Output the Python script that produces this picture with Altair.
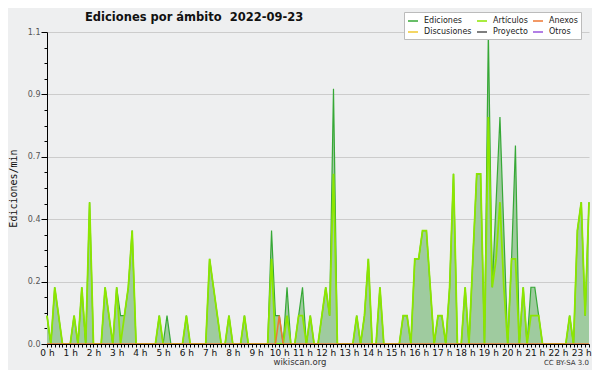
import altair as alt
import pandas as pd

# 10-minute bins, 00:00 .. 23:20 (minutes)
minutos = list(range(0, 1401, 10))

ediciones = [
    0.1, 0, 0.2, 0.1, 0, 0,        # 0 h
    0, 0.1, 0, 0.2, 0, 0.5,        # 1 h
    0, 0, 0, 0.2, 0.1, 0,          # 2 h
    0.2, 0.1, 0.1, 0.2, 0.4, 0,    # 3 h
    0, 0, 0, 0, 0, 0.1,            # 4 h
    0, 0.1, 0, 0, 0, 0,            # 5 h
    0.1, 0, 0, 0, 0, 0,            # 6 h
    0.3, 0.2, 0.1, 0, 0, 0.1,      # 7 h
    0, 0, 0, 0.1, 0, 0,            # 8 h
    0, 0, 0, 0, 0.4, 0.1,          # 9 h
    0.1, 0, 0.2, 0, 0, 0.1,        # 10 h
    0.2, 0, 0.1, 0, 0, 0.1,        # 11 h
    0.2, 0.1, 0.9, 0, 0, 0,        # 12 h
    0, 0, 0.1, 0, 0.1, 0.3,        # 13 h
    0, 0, 0.2, 0, 0, 0,            # 14 h
    0, 0, 0.1, 0.1, 0, 0.3,        # 15 h
    0.3, 0.4, 0.4, 0.2, 0, 0.1,    # 16 h
    0.1, 0, 0.2, 0.6, 0, 0,        # 17 h
    0.2, 0, 0.3, 0.6, 0.6, 0,      # 18 h
    1.1, 0.2, 0.5, 0.8, 0.4, 0,    # 19 h
    0.3, 0.7, 0, 0.2, 0, 0.2,      # 20 h
    0.2, 0.1, 0, 0, 0, 0,          # 21 h
    0, 0, 0, 0.1, 0, 0.4,          # 22 h
    0.5, 0.1, 0.5,                 # 23 h
]

articulos = [
    0.1, 0, 0.2, 0.1, 0, 0,
    0, 0.1, 0, 0.2, 0, 0.5,
    0, 0, 0, 0.2, 0.1, 0,
    0.2, 0, 0.1, 0.2, 0.4, 0,
    0, 0, 0, 0, 0, 0.1,
    0, 0, 0, 0, 0, 0,
    0.1, 0, 0, 0, 0, 0,
    0.3, 0.2, 0.1, 0, 0, 0.1,
    0, 0, 0, 0.1, 0, 0,
    0, 0, 0, 0, 0.3, 0,
    0, 0, 0.1, 0, 0, 0.1,
    0.1, 0, 0.1, 0, 0, 0.1,
    0.2, 0.1, 0.6, 0, 0, 0,
    0, 0, 0.1, 0, 0.1, 0.3,
    0, 0, 0.2, 0, 0, 0,
    0, 0, 0.1, 0.1, 0, 0.3,
    0.3, 0.4, 0.4, 0.2, 0, 0.1,
    0.1, 0, 0.2, 0.6, 0, 0,
    0.2, 0, 0.3, 0.6, 0.6, 0,
    0.8, 0.2, 0.3, 0.5, 0.2, 0,
    0.3, 0.3, 0, 0.2, 0, 0.1,
    0.1, 0.1, 0, 0, 0, 0,
    0, 0, 0, 0.1, 0, 0.4,
    0.5, 0.1, 0.5,
]

anexos = [0.0] * 60 + [0.1] + [0.0] * 80

# legend is filled column by column: (Ediciones, Discusiones), (Artículos, Proyecto), (Anexos, Otros)
series = ["Ediciones", "Discusiones", "Artículos", "Proyecto", "Anexos", "Otros"]
colores = ["#36a836", "#f0c830", "#8ce600", "#555555", "#ee7733", "#9955dd"]

titulo = "Ediciones por ámbito \u00a02022-09-23"

rows = []
for nombre, vals in [("Ediciones", ediciones), ("Artículos", articulos), ("Anexos", anexos)]:
    for m, v in zip(minutos, vals):
        rows.append({"serie": nombre, "minuto": m, "valor": v})
df = pd.DataFrame(rows)

major = "abs(datum.value/0.22 - round(datum.value/0.22)) < 0.01"
y_ticks = [round(k * 0.055, 4) for k in range(21)]
x_ticks = list(range(0, 1401, 10))

xaxis = alt.Axis(
    values=x_ticks,
    labelExpr="datum.value % 60 == 0 ? floor(datum.value/60) + ' h' : ''",
    labelOverlap=False, labelFlush=False, grid=False, title=None,
    tickSize=3, tickColor="black", domainColor="black",
    labelFont="DejaVu Sans", labelFontSize=9, labelColor="#111", labelPadding=1,
    zindex=1,
)
yaxis = alt.Axis(
    values=y_ticks,
    labelExpr=major + " ? format(datum.value, '.1f') : ''",
    tickSize=alt.condition(major, alt.value(6), alt.value(3)),
    gridOpacity=alt.condition(major, alt.value(1), alt.value(0)),
    gridColor="#cccccc", tickColor="black", domainColor="black",
    labelFont="DejaVu Sans", labelFontSize=8, labelColor="#555", labelPadding=1,
    title="Ediciones/min", titleFont="DejaVu Sans Mono", titleFontSize=10,
    titleFontWeight="normal", titleColor="#111", titleAngle=-90,
    titleAlign="center", titleBaseline="middle", titleX=-34, titleY=156,
)

X = alt.X("minuto:Q", scale=alt.Scale(domain=[0, 1400], nice=False, zero=False), axis=xaxis)
Y = alt.Y("valor:Q", scale=alt.Scale(domain=[0, 1.1], nice=False), axis=yaxis)
C = alt.Color(
    "serie:N",
    scale=alt.Scale(domain=series, range=colores),
    legend=alt.Legend(
        orient="none", legendX=357, legendY=-20, columns=3, title=None,
        symbolType="stroke", symbolSize=100, symbolStrokeWidth=1.5,
        labelFont="DejaVu Sans", labelFontSize=8, labelColor="#222",
        labelOffset=5, columnPadding=2, rowPadding=1, padding=3,
        fillColor="white", strokeColor="#bbbbbb",
    ),
)

base = alt.Chart(df)
area = base.transform_filter(alt.datum.serie == "Ediciones").mark_area(
    color="#9fcb9f", opacity=1
).encode(x=X, y=Y)
l_ed = base.transform_filter(alt.datum.serie == "Ediciones").mark_line(
    strokeWidth=1.2
).encode(x=X, y=Y, color=C)
l_ar = base.transform_filter(alt.datum.serie == "Artículos").mark_line(
    strokeWidth=1.8
).encode(x=X, y=Y, color=C)
l_an = base.transform_filter(alt.datum.serie == "Anexos").mark_line(
    strokeWidth=1.5
).encode(x=X, y=Y, color=C)

head = alt.Chart(pd.DataFrame({"t": [titulo]})).mark_text(
    font="DejaVu Sans", fontSize=11.5, fontWeight="bold", color="#111",
    align="left", baseline="alphabetic"
).encode(text="t:N", x=alt.value(38), y=alt.value(-11))
foot1 = alt.Chart(pd.DataFrame({"t": ["wikiscan.org"]})).mark_text(
    font="DejaVu Sans", fontSize=8.5, color="#333", align="center", baseline="alphabetic"
).encode(text="t:N", x=alt.value(253), y=alt.value(333))
foot2 = alt.Chart(pd.DataFrame({"t": ["CC BY-SA 3.0"]})).mark_text(
    font="DejaVu Sans", fontSize=7, color="#333", align="right", baseline="alphabetic"
).encode(text="t:N", x=alt.value(542), y=alt.value(333))

chart = alt.layer(area, l_ed, l_ar, l_an, head, foot1, foot2).properties(
    width=542, height=312,
    autosize=alt.AutoSizeParams(type="none"),
    padding={"left": 39, "top": 24, "right": 3, "bottom": 26},
    background="#eeeff0",
).configure_view(stroke=None, fill="#eeeff0")

chart.save("out.html", embed_options={"renderer": "svg", "actions": False})
